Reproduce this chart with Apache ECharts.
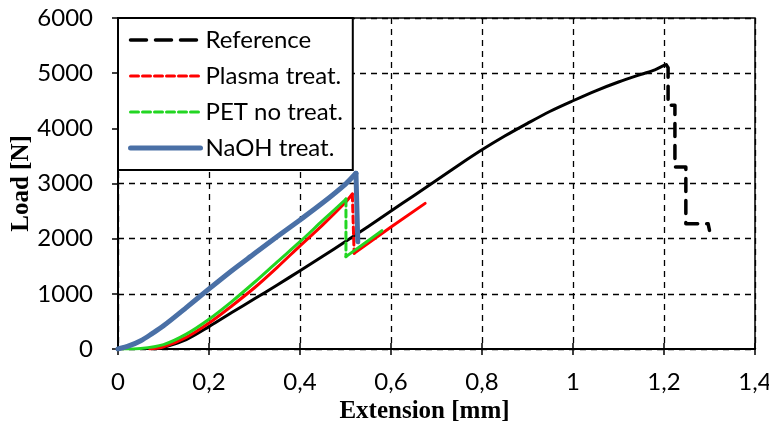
<!DOCTYPE html>
<html lang="en">
<head>
    <meta charset="UTF-8">
    <title>Load - Extension</title>
    <script src="https://cdn.jsdelivr.net/npm/echarts@6/dist/echarts.min.js"></script>
    <style>
        html, body {margin: 0; padding: 0; background: #fff;}
        #my {width: 769px; height: 421px;}
    </style>
</head>
<body>
<div id="my"></div>
<script>
    // Reference: rising curve (solid) + dashed fracture steps
    var refCurve = [[0.08, 0], [0.1, 30], [0.15, 170], [0.2, 405], [0.25, 660], [0.3, 910], [0.35, 1160],
        [0.4, 1420], [0.45, 1680], [0.5, 1950], [0.55, 2220], [0.6, 2500], [0.65, 2780], [0.7, 3060],
        [0.75, 3340], [0.8, 3610], [0.85, 3860], [0.9, 4090], [0.95, 4310], [1.0, 4500], [1.05, 4680],
        [1.1, 4840], [1.15, 4980], [1.18, 5060], [1.2, 5140], [1.205, 5150]]
    var refDrop = [[1.205, 5150], [1.209, 5100], [1.209, 4420], [1.224, 4420], [1.224, 3300],
        [1.248, 3300], [1.248, 2270], [1.297, 2270], [1.3, 2150]]

    // Plasma treat.
    var plasmaCurve = [[0.07, 0], [0.1, 40], [0.15, 210], [0.2, 470], [0.25, 780], [0.3, 1110], [0.35, 1480],
        [0.4, 1870], [0.45, 2250], [0.5, 2660], [0.515, 2810]]
    var plasmaDrop = [[0.515, 2810], [0.519, 1735]]
    var plasmaTail = [[0.519, 1735], [0.6, 2210], [0.675, 2640]]

    // PET no treat.
    var petCurve = [[0.01, 0], [0.05, 10], [0.1, 80], [0.15, 270], [0.2, 540], [0.25, 860], [0.3, 1210],
        [0.35, 1580], [0.4, 1945], [0.45, 2330], [0.5, 2710], [0.501, 2720]]
    var petDrop = [[0.501, 2720], [0.501, 1674]]
    var petTail = [[0.501, 1674], [0.58, 2145]]

    // NaOH treat.
    var naohCurve = [[0, 0], [0.025, 60], [0.05, 150], [0.075, 280], [0.1, 420], [0.15, 750], [0.2, 1090],
        [0.25, 1420], [0.3, 1730], [0.35, 2040], [0.4, 2340], [0.45, 2650], [0.5, 2990], [0.523, 3185]]
    var naohDrop = [[0.523, 3185], [0.527, 1945]]

    var legendNames = ['Reference', 'Plasma treat.', 'PET no treat.', 'NaOH treat.']

    var RED = '#ff0000', GREEN = '#22d622', BLUE = '#4a70a6'

    function line(name, data, color, width, type, z, smooth) {
        return {
            name: name, type: 'line', data: data, symbol: 'none', z: z,
            smooth: smooth || false,
            lineStyle: {color: color, width: width, type: type, cap: 'round', join: 'round'},
            itemStyle: {color: color}
        }
    }

    var mCharts = echarts.init(document.getElementById('my'))
    var option = {
        animation: false,
        grid: {left: 118, right: 14, top: 18, bottom: 72, outerBoundsMode: 'none',
            show: true, borderColor: '#000', borderWidth: 1.5},
        legend: {
            data: [
                {name: legendNames[0], lineStyle: {width: 3.5, type: [16, 9]}},
                {name: legendNames[1], lineStyle: {width: 3, type: [8, 4]}},
                {name: legendNames[2], lineStyle: {width: 3, type: [8, 4]}},
                {name: legendNames[3], lineStyle: {width: 5}}
            ],
            orient: 'vertical',
            left: 118, top: 18,
            padding: [10, 10, 10, 10],
            itemGap: 12,
            itemWidth: 70, itemHeight: 14,
            backgroundColor: '#fff',
            borderColor: '#000', borderWidth: 2,
            itemStyle: {opacity: 0},
            textStyle: {fontFamily: 'Lato', fontSize: 24, color: '#000'}
        },
        xAxis: [{
            type: 'value', min: 0, max: 1.4, interval: 0.2,
            name: 'Extension [mm]', nameLocation: 'middle', nameGap: 49,
            nameTextStyle: {fontFamily: 'Liberation Serif', fontWeight: 'bold', fontSize: 25, color: '#000',
                padding: [0, 24, 0, 0]},
            axisLine: {lineStyle: {color: '#000', width: 2}},
            axisTick: {length: 6, lineStyle: {color: '#000', width: 1.5}},
            axisLabel: {
                fontFamily: 'Lato', fontSize: 24, color: '#000', margin: 21,
                formatter: function (v) { return String(+v.toFixed(1)).replace('.', ',') }
            },
            splitLine: {lineStyle: {color: '#000', type: [6, 5], width: 1.3}}
        }, {
            type: 'value', min: 0, max: 1.4, interval: 0.2, position: 'bottom',
            axisLine: {show: false},
            axisTick: {inside: true, length: 6, lineStyle: {color: '#000', width: 1.5}},
            axisLabel: {show: false}, splitLine: {show: false}
        }],
        yAxis: {
            type: 'value', min: 0, max: 6000, interval: 1000,
            name: 'Load [N]', nameLocation: 'middle', nameGap: 84, nameMoveOverlap: false,
            nameTextStyle: {fontFamily: 'Liberation Serif', fontWeight: 'bold', fontSize: 25, color: '#000'},
            axisLine: {show: true, lineStyle: {color: '#000', width: 2}},
            axisTick: {show: true, length: 6, lineStyle: {color: '#000', width: 1.5}},
            axisLabel: {fontFamily: 'Lato', fontSize: 24, color: '#000', margin: 25,
                formatter: function (v) { return String(v) }},
            splitLine: {lineStyle: {color: '#000', type: [6, 5], width: 1.3}}
        },
        series: [
            line('refCurve', refCurve, '#000', 3, 'solid', 2, 0.3),
            line('Reference', refDrop, '#000', 3.5, [13, 9], 2),
            line('plasmaCurve', plasmaCurve, RED, 3, 'solid', 3, 0.3),
            line('Plasma treat.', plasmaDrop, RED, 3, [7, 4], 3),
            line('plasmaTail', plasmaTail, RED, 3, 'solid', 3),
            line('petCurve', petCurve, GREEN, 3, 'solid', 4, 0.3),
            line('PET no treat.', petDrop, GREEN, 3, [7, 4], 4),
            line('petTail', petTail, GREEN, 3, 'solid', 4),
            line('NaOH treat.', naohCurve, BLUE, 5, 'solid', 5, 0.3),
            line('naohDrop', naohDrop, BLUE, 5, 'solid', 5)
        ]
    }
    mCharts.setOption(option)
    window.onresize = mCharts.resize
</script>
</body>
</html>
